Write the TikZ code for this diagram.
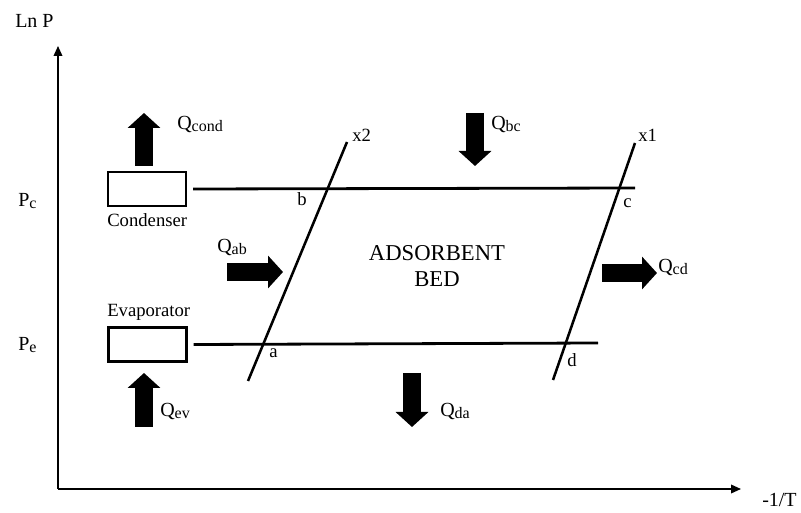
\documentclass[tikz,border=0pt]{standalone}
\usepackage{fontspec}
\setmainfont{Liberation Serif}
\usetikzlibrary{arrows.meta, positioning}

\newcommand{\lowsub}[1]{{\fontsize{12}{12}\selectfont\raisebox{-1.5pt}{#1}}}

\begin{document}
\begin{tikzpicture}[x=0.75pt, y=-0.75pt, font=\fontsize{15}{17}\selectfont,
    axis/.style={line width=1.1pt, -{Triangle[length=7.5pt, width=6.5pt]}},
    level/.style={line width=2.1pt},
    iso/.style={line width=1.9pt},
    unit/.style={draw, line width=1.6pt, minimum width=58.5pt, minimum height=25.5pt, inner sep=0pt},
    heat/.style={line width=13.5pt, -{Triangle[length=11.25pt, width=24pt]}},
    lbl/.style={inner sep=0pt, anchor=base west},
    small/.style={font=\fontsize{14}{16}\selectfont},
    pt/.style={font=\fontsize{14}{16}\selectfont}]
    \useasboundingbox (0,0) rectangle (801,513);
    % axes
    \coordinate (O) at (58,489);
    \coordinate (ytip) at (58,46);
    \coordinate (xtip) at (741,489);
    \draw[axis] (O) -- (ytip);
    \draw[axis] (O) -- (xtip);
    \node[lbl] (lnp) at (15,28) {Ln P};
    \node[lbl] (invt) at (762,507) {-1/T};
    \node[lbl] (pc) at (18,207) {P\lowsub{c}};
    \node[lbl] (pe) at (18,351) {P\lowsub{e}};
    % condenser and evaporator
    \node[unit] (cond) at (147,189) {};
    \node[unit] (evap) at (147.5,344.5) {};
    \node[lbl, small] (condlbl) at (107,227) {Condenser};
    \node[lbl, small] (evaplbl) at (107,317) {Evaporator};
    % pressure levels
    \coordinate (pcend) at (635,188);
    \coordinate (peend) at (598,343);
    \draw[level] ([xshift=4.5pt]cond.east) -- (pcend);
    \draw[level] ([xshift=4.5pt]evap.east) -- (peend);
    % isosteres
    \coordinate (x2bot) at (248,381);
    \coordinate (x2top) at (347,142);
    \coordinate (x1bot) at (553,380);
    \coordinate (x1top) at (635,143);
    \draw[iso] (x2bot) -- (x2top);
    \draw[iso] (x1bot) -- (x1top);
    \node[lbl, pt] (x2lbl) at (352,142) {x2};
    \node[lbl, pt] (x1lbl) at (638,142) {x1};
    % cycle points
    \node[lbl, pt] (ptb) at (297,206) {b};
    \node[lbl, pt] (ptc) at (623,208) {c};
    \node[lbl, pt] (pta) at (269,358) {a};
    \node[lbl, pt] (ptd) at (567,367) {d};
    \node[font=\fontsize{17}{20}\selectfont, align=center, inner sep=0pt] (bed) at (437,266) {ADSORBENT\\BED};
    % heat flows
    \coordinate (qcondA) at (144,166);
    \coordinate (qcondB) at (144,113);
    \coordinate (qbcA) at (475,113);
    \coordinate (qbcB) at (475,166);
    \coordinate (qabA) at (227,272);
    \coordinate (qabB) at (283,272);
    \coordinate (qcdA) at (602,273);
    \coordinate (qcdB) at (657,273);
    \coordinate (qevA) at (144,427);
    \coordinate (qevB) at (144,373);
    \coordinate (qdaA) at (412,373);
    \coordinate (qdaB) at (412,427);
    \draw[heat] (qcondA) -- (qcondB);
    \draw[heat] (qbcA) -- (qbcB);
    \draw[heat] (qabA) -- (qabB);
    \draw[heat] (qcdA) -- (qcdB);
    \draw[heat] (qevA) -- (qevB);
    \draw[heat] (qdaA) -- (qdaB);
    \node[lbl] (qcond) at (177,130) {Q\lowsub{cond}};
    \node[lbl] (qbc) at (491,130) {Q\lowsub{bc}};
    \node[lbl] (qab) at (217,253) {Q\lowsub{ab}};
    \node[lbl] (qcd) at (658,273) {Q\lowsub{cd}};
    \node[lbl] (qev) at (160,417) {Q\lowsub{ev}};
    \node[lbl] (qda) at (440,417) {Q\lowsub{da}};
\end{tikzpicture}
\end{document}
